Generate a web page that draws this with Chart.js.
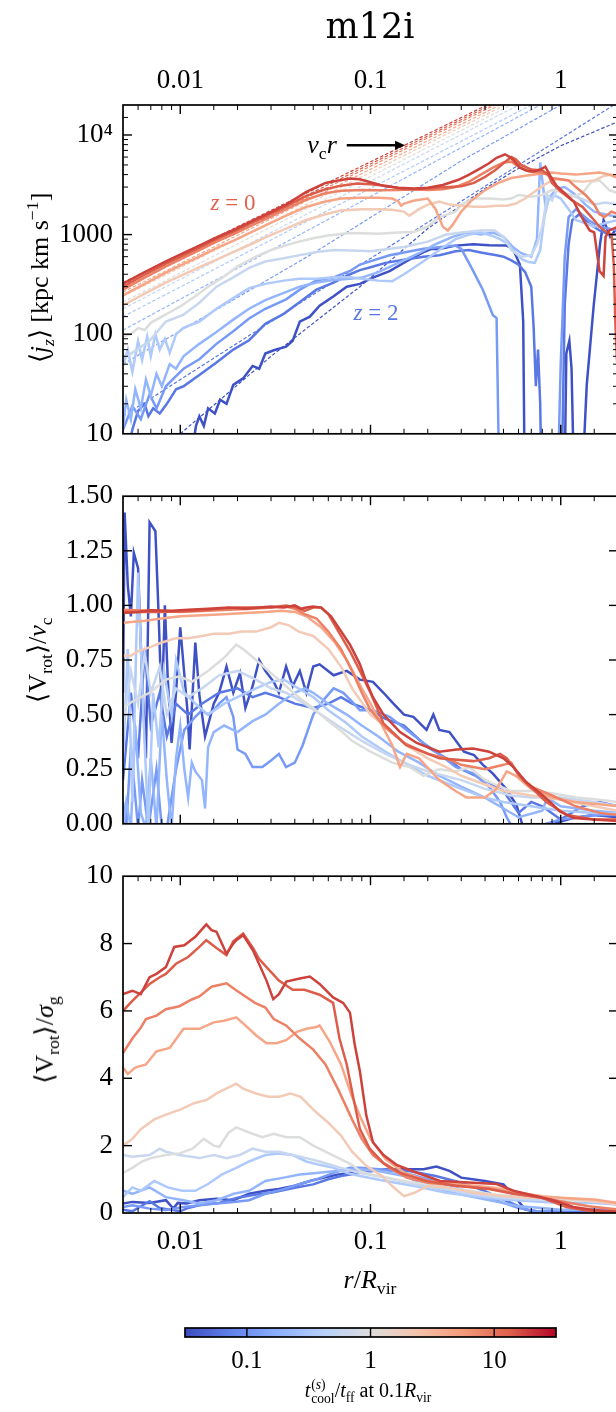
<!DOCTYPE html>
<html>
<head>
<meta charset="utf-8">
<script src="https://cdn.jsdelivr.net/npm/chart.js@4.4.1/dist/chart.umd.min.js"></script>
<style>
html, body { margin: 0; padding: 0; background: #fff; overflow: hidden; }
#fig { position: relative; width: 616px; height: 1412px; overflow: hidden; font-family: 'Liberation Serif', serif; color: #000; }
canvas { position: absolute; left: 0; }
.lbl { position: absolute; white-space: nowrap; font-size: 26px; line-height: 1; }
.ctr { transform: translate(-50%, -50%); }
.rot { transform: translate(-50%, -50%) rotate(-90deg); }
sub, sup { font-size: 68%; line-height: 0; }
.ss { display: inline-flex; flex-direction: column; vertical-align: middle; font-size: 68%; line-height: 1; margin-left: 1px; }
</style>
</head>
<body>
<div id="fig">
  <canvas id="c1" width="640" height="460" style="top:0px"></canvas>
  <canvas id="c2" width="640" height="380" style="top:470px"></canvas>
  <canvas id="c3" width="640" height="420" style="top:850px"></canvas>
  <canvas id="cb" width="640" height="70" style="top:1310px"></canvas>

  <div class="lbl ctr" style="left:370px;top:26px;font-family:'DejaVu Serif';font-size:35px;">m12i</div>
  <div class="lbl rot" style="left:40px;top:278px;">⟨<i>j</i><sub><i>z</i></sub>⟩ [kpc km s<sup>−1</sup>]</div>
  <div class="lbl rot" style="left:38px;top:660px;">⟨V<sub>rot</sub>⟩/<i>v</i><sub>c</sub></div>
  <div class="lbl rot" style="left:45px;top:1040px;">⟨V<sub>rot</sub>⟩/<i>σ</i><sub>g</sub></div>
  <div class="lbl ctr" style="left:370px;top:1280px;"><i>r</i>/<i>R</i><sub>vir</sub></div>
  <div class="lbl ctr" style="left:322px;top:145px;"><i>v</i><sub>c</sub><i>r</i></div>
  <div class="lbl ctr" style="left:233px;top:202px;font-size:23px;color:#e0624e;"><i>z</i> = 0</div>
  <div class="lbl ctr" style="left:376px;top:312px;font-size:23px;color:#5a78e4;"><i>z</i> = 2</div>
  <div class="lbl ctr" style="left:368px;top:1392px;font-size:20px;"><i>t</i><span class="ss"><span>(<i>s</i>)</span><span>cool</span></span>/<i>t</i><sub>ff</sub> at 0.1<i>R</i><sub>vir</sub></div>
</div>

<script>
// axis ranges and tick labels
const X_MIN = 0.005, X_MAX = 2;
const X_TICKS = [0.01, 0.1, 1];
const X_TICK_TEXT = ['0.01', '0.1', '1'];
const JZ_MIN = 10, JZ_MAX = 20000;
const JZ_TICKS = [10, 100, 1000, 10000];
const JZ_TICK_TEXT = ['10', '100', '1000', '10⁴'];
const VC_TICKS = [0, 0.25, 0.5, 0.75, 1.0, 1.25, 1.5];
const VC_TICK_TEXT = ['0.00', '0.25', '0.50', '0.75', '1.00', '1.25', '1.50'];
const SG_TICKS = [0, 2, 4, 6, 8, 10];
const SG_TICK_TEXT = ['0', '2', '4', '6', '8', '10'];
const CB_MIN = 0.0316, CB_MAX = 31.6;
const CB_TICKS = [0.1, 1, 10];
const CB_TICK_TEXT = ['0.1', '1', '10'];

// one colour per snapshot, from low to high t_cool/t_ff
const COLORS = ['#3e51c5', '#5a78e4', '#779af7', '#93b5fe', '#aec9fc', '#c7d7f0',
                '#dcdddd', '#f2cab5', '#f6a586', '#ec8165', '#dc5d4a', '#cd423b'];

// arrow next to "v_c r"
const ARROW = { x0: 0.075, x1: 0.152, y: 7900 };

// ---- top panel: <j_z> ----
const jz0 = [[0.0117,8],[0.0121,12],[0.0126,15],[0.0133,12],[0.014,18],[0.0152,16],[0.0162,22],[0.0175,20],[0.019,31],[0.0214,36],[0.024,48],[0.026,45],[0.028,64],[0.031,69],[0.036,75],[0.039,86],[0.0425,134],[0.048,150],[0.054,193],[0.064,240],[0.075,300],[0.088,320],[0.103,370],[0.126,430],[0.154,537],[0.19,668],[0.21,720],[0.23,715],[0.28,775],[0.347,800],[0.42,780],[0.52,775],[0.56,720],[0.61,500],[0.635,134],[0.65,1],[1.04,1],[1.07,64],[1.11,86],[1.14,45],[1.19,1],[1.26,1],[1.37,31],[1.49,193],[1.61,810],[1.68,1390],[1.82,950],[2.0,1200]];
const jz1 = [[0.0054,8],[0.0056,11],[0.006,17],[0.0065,20],[0.0068,15],[0.0072,18],[0.0078,16],[0.0085,20],[0.0095,28],[0.0104,30],[0.0126,39],[0.0155,52],[0.019,70],[0.023,87],[0.028,127],[0.035,160],[0.0425,210],[0.052,280],[0.064,330],[0.078,400],[0.088,440],[0.1,470],[0.12,520],[0.15,560],[0.19,600],[0.23,620],[0.28,680],[0.33,700],[0.38,660],[0.42,640],[0.46,620],[0.5,600],[0.55,550],[0.6,500],[0.65,420],[0.7,300],[0.72,120],[0.74,30],[0.76,70],[0.78,20],[0.8,1],[1.0,1],[1.05,200],[1.1,800],[1.15,1400],[1.25,1600],[1.4,1300],[1.6,1100],[1.8,1000],[2.0,1000]];
const jz2 = [[0.005,11],[0.0056,19],[0.0062,14],[0.0069,25],[0.0075,18],[0.0084,30],[0.0095,38],[0.0104,45],[0.0126,56],[0.0155,80],[0.019,107],[0.023,144],[0.028,180],[0.036,224],[0.0425,280],[0.052,346],[0.064,372],[0.078,431],[0.088,500],[0.126,620],[0.19,720],[0.28,775],[0.3,720],[0.333,500],[0.39,278],[0.44,155],[0.46,145],[0.48,1],[0.95,1],[1.0,50],[1.05,600],[1.1,1500],[1.2,1800],[1.4,1400],[1.6,1200],[2.0,1100]];
const jz3 = [[0.005,12],[0.0052,22],[0.0055,14],[0.0058,28],[0.0062,18],[0.0066,35],[0.007,24],[0.0075,40],[0.008,30],[0.0088,50],[0.0095,45],[0.0104,60],[0.0126,80],[0.0155,105],[0.019,140],[0.023,180],[0.028,220],[0.035,260],[0.0425,300],[0.052,330],[0.064,350],[0.078,360],[0.09,370],[0.11,420],[0.14,520],[0.18,650],[0.22,800],[0.27,950],[0.32,1050],[0.38,1000],[0.44,1050],[0.5,950],[0.56,750],[0.62,650],[0.7,600],[0.75,900],[0.78,5300],[0.8,3500],[0.83,2000],[0.88,2400],[0.95,2900],[1.05,3000],[1.2,2500],[1.35,2000],[1.5,1700],[1.7,1600],[2.0,1500]];
const jz4 = [[0.005,48],[0.0053,70],[0.0056,42],[0.006,85],[0.0063,55],[0.0067,95],[0.007,60],[0.0074,100],[0.0078,70],[0.0083,90],[0.0088,65],[0.0095,100],[0.0104,116],[0.0126,134],[0.0155,180],[0.019,230],[0.023,290],[0.028,320],[0.035,345],[0.0425,360],[0.052,360],[0.064,372],[0.078,372],[0.09,360],[0.11,345],[0.13,340],[0.15,400],[0.19,540],[0.23,700],[0.28,900],[0.33,1000],[0.38,1050],[0.43,980],[0.48,900],[0.53,800],[0.58,650],[0.63,560],[0.68,530],[0.73,520],[0.78,700],[0.82,1500],[0.86,2200],[0.92,2500],[1.0,2300],[1.1,1800],[1.2,1400],[1.35,1300],[1.5,1200],[1.7,1300],[2.0,1400]];
const jz5 = [[0.005,60],[0.0054,62],[0.0069,86],[0.0084,134],[0.0103,155],[0.0126,207],[0.0155,300],[0.019,372],[0.023,463],[0.028,537],[0.035,578],[0.0425,622],[0.052,668],[0.064,700],[0.088,690],[0.1,680],[0.15,750],[0.2,850],[0.25,1000],[0.3,1050],[0.38,1100],[0.45,1100],[0.5,950],[0.55,700],[0.62,600],[0.7,620],[0.75,800],[0.8,1200],[0.85,2500],[0.9,2200],[0.95,2800],[1.05,2600],[1.2,2400],[1.35,2200],[1.5,2000],[1.7,2100],[2.0,2000]];
const jz6 = [[0.005,95],[0.0055,100],[0.006,115],[0.0065,110],[0.007,130],[0.008,150],[0.009,170],[0.01,190],[0.012,240],[0.014,300],[0.017,380],[0.02,480],[0.025,600],[0.03,700],[0.04,830],[0.05,920],[0.06,980],[0.075,1030],[0.09,1030],[0.11,1020],[0.14,1050],[0.17,1070],[0.2,1200],[0.23,1500],[0.28,1700],[0.3,2000],[0.35,2300],[0.42,2300],[0.5,2250],[0.55,2300],[0.6,2500],[0.7,2400],[0.8,2500],[0.9,2800],[1.0,2700],[1.15,2400],[1.3,2600],[1.45,3400],[1.6,3500],[1.8,2800],[2.0,2600]];
const jz7 = [[0.005,195],[0.0065,255],[0.0084,330],[0.0105,400],[0.0126,470],[0.0155,560],[0.0191,670],[0.0235,800],[0.0284,950],[0.036,1150],[0.046,1400],[0.058,1600],[0.07,1750],[0.09,1800],[0.11,1800],[0.13,1780],[0.15,1700],[0.16,1550],[0.18,1800],[0.2,2000],[0.23,2150],[0.26,2000],[0.3,1950],[0.35,1900],[0.4,1900],[0.46,1950],[0.52,1950],[0.58,2050],[0.65,2300],[0.75,2800],[0.85,3300],[0.95,3600],[1.1,3500],[1.3,3400],[1.5,3500],[1.7,3900],[1.85,4000],[2.0,3800]];
const jz8 = [[0.005,245],[0.0065,320],[0.0084,415],[0.0105,510],[0.0126,600],[0.0155,730],[0.0191,870],[0.0235,1050],[0.0284,1250],[0.036,1550],[0.046,1900],[0.058,2150],[0.07,2300],[0.09,2350],[0.11,2350],[0.13,2300],[0.14,2150],[0.145,1950],[0.15,2050],[0.17,2200],[0.2,2300],[0.22,1800],[0.24,1200],[0.255,1100],[0.27,1250],[0.3,1700],[0.34,2200],[0.4,2800],[0.47,3300],[0.55,3700],[0.65,3900],[0.8,4100],[0.9,4200],[1.0,4100],[1.2,4000],[1.4,4100],[1.6,4200],[1.8,4000],[2.0,3700]];
const jz9 = [[0.005,280],[0.0065,370],[0.0084,480],[0.0105,590],[0.0126,700],[0.0155,850],[0.0191,1010],[0.0235,1220],[0.0284,1450],[0.036,1800],[0.046,2250],[0.058,2600],[0.07,2750],[0.09,2800],[0.11,2780],[0.14,2800],[0.17,2850],[0.2,2800],[0.24,2850],[0.28,3000],[0.33,3400],[0.38,4000],[0.44,4700],[0.5,5300],[0.55,5400],[0.6,4800],[0.68,4300],[0.78,4200],[0.85,4000],[0.9,3700],[1.0,3600],[1.1,3500],[1.2,3000],[1.35,2500],[1.5,2000],[1.6,1600],[1.7,1500],[1.85,1700],[2.0,1600]];
const jz10 = [[0.005,300],[0.0065,395],[0.0084,510],[0.0105,625],[0.0126,740],[0.0155,900],[0.0191,1070],[0.0235,1300],[0.0284,1540],[0.036,1920],[0.046,2450],[0.058,2850],[0.07,3100],[0.085,3250],[0.1,3200],[0.12,3100],[0.15,2850],[0.18,2850],[0.22,2950],[0.26,3000],[0.3,3050],[0.35,3300],[0.4,3800],[0.45,4400],[0.5,5200],[0.55,6000],[0.58,5700],[0.62,5000],[0.7,4500],[0.8,4400],[0.86,4000],[0.9,3300],[1.0,2700],[1.15,2200],[1.3,1900],[1.45,1500],[1.6,1200],[1.75,1050],[1.85,1000],[1.9,500],[1.94,120],[1.97,60],[2.0,40]];
const jz11 = [[0.005,322],[0.0065,420],[0.0084,537],[0.0105,660],[0.0126,774],[0.0155,940],[0.0191,1117],[0.0235,1350],[0.0284,1607],[0.036,2000],[0.046,2680],[0.058,3300],[0.068,3500],[0.078,3650],[0.088,3600],[0.1,3350],[0.12,3050],[0.14,2950],[0.17,2900],[0.2,2950],[0.24,3150],[0.29,3550],[0.33,4000],[0.376,4600],[0.42,5200],[0.46,5900],[0.51,6400],[0.54,6000],[0.564,5600],[0.61,4700],[0.66,4400],[0.72,4300],[0.78,4500],[0.83,4800],[0.88,3900],[0.95,3100],[1.05,2600],[1.17,2150],[1.32,1380],[1.42,1100],[1.5,1050],[1.6,430],[1.68,385],[1.72,950],[1.8,1100],[2.0,1200]];

// dashed v_c * r references, same colour order
const vcr0 = [[0.01,10],[0.03,60],[0.088,300],[0.2,1150],[0.4,2900],[0.586,4500],[1.0,7800],[2.0,13600]];
const vcr1 = [[0.005,15],[0.05,250],[0.5,4000],[1.9,20000]];
const vcr2 = [[0.005,50],[0.05,650],[0.3,5500],[1.0,20000]];
const vcr3 = [[0.005,110],[0.78,20000]];
const vcr4 = [[0.005,150],[0.7,20000]];
const vcr5 = [[0.005,180],[0.6,20000]];
const vcr6 = [[0.005,210],[0.55,20000]];
const vcr7 = [[0.005,240],[0.51,20000]];
const vcr8 = [[0.005,265],[0.48,20000]];
const vcr9 = [[0.005,290],[0.45,20000]];
const vcr10 = [[0.005,310],[0.43,20000]];
const vcr11 = [[0.005,330],[0.41,20000]];

// ---- middle panel: <V_rot>/v_c ----
const vc0 = [[0.005,0.6],[0.0051,1.425],[0.0053,1.09],[0.0055,0.95],[0.0057,1.24],[0.006,1.17],[0.0063,0.66],[0.0066,0.3],[0.0069,1.38],[0.0074,1.34],[0.0077,0.95],[0.008,0.52],[0.0083,1.0],[0.0086,0.66],[0.009,0.37],[0.0095,0.6],[0.01,0.9],[0.0109,0.52],[0.0112,0.34],[0.012,0.83],[0.0126,0.59],[0.0135,0.4],[0.015,0.55],[0.016,0.6],[0.0175,0.72],[0.019,0.6],[0.0206,0.69],[0.022,0.53],[0.024,0.63],[0.026,0.75],[0.028,0.7],[0.031,0.65],[0.033,0.6],[0.036,0.72],[0.039,0.63],[0.0425,0.7],[0.046,0.6],[0.05,0.72],[0.054,0.73],[0.064,0.68],[0.075,0.7],[0.088,0.66],[0.103,0.65],[0.117,0.6],[0.132,0.55],[0.15,0.5],[0.168,0.49],[0.197,0.43],[0.214,0.5],[0.23,0.43],[0.26,0.42],[0.31,0.33],[0.35,0.315],[0.39,0.27],[0.44,0.23],[0.52,0.157],[0.586,0.085],[0.636,-0.02],[0.8,-0.02],[1.0,0.01],[1.17,0.027],[1.49,0.04],[2.0,0.03]];
const vc1 = [[0.005,0.2],[0.0055,0.6],[0.006,0.3],[0.0065,0.8],[0.007,0.45],[0.0078,0.6],[0.0085,0.4],[0.0095,0.55],[0.011,0.5],[0.013,0.55],[0.016,0.6],[0.02,0.62],[0.024,0.58],[0.028,0.6],[0.033,0.58],[0.04,0.55],[0.05,0.53],[0.06,0.55],[0.07,0.58],[0.08,0.55],[0.1,0.52],[0.12,0.48],[0.15,0.45],[0.2,0.35],[0.25,0.3],[0.3,0.25],[0.4,0.2],[0.5,0.15],[0.6,0.05],[0.7,0.1],[0.8,0.08],[1.0,0.02],[1.3,0.08],[1.6,0.1],[2.0,0.08]];
const vc2 = [[0.005,0.1],[0.0052,-0.02],[0.0055,0.35],[0.006,-0.02],[0.0063,0.2],[0.0068,-0.02],[0.0075,0.25],[0.008,-0.02],[0.0085,-0.02],[0.0095,0.25],[0.0105,0.43],[0.012,0.49],[0.013,0.52],[0.014,0.5],[0.015,0.52],[0.016,0.55],[0.0175,0.58],[0.019,0.49],[0.02,0.34],[0.022,0.32],[0.024,0.26],[0.027,0.26],[0.03,0.29],[0.033,0.32],[0.036,0.26],[0.04,0.28],[0.044,0.36],[0.05,0.5],[0.057,0.57],[0.064,0.62],[0.072,0.6],[0.08,0.56],[0.088,0.52],[0.103,0.52],[0.126,0.49],[0.155,0.43],[0.19,0.37],[0.23,0.32],[0.28,0.26],[0.347,0.23],[0.42,0.17],[0.48,0.1],[0.52,0.03],[0.56,-0.02],[0.7,-0.02],[1.0,0.02],[1.5,0.04],[2.0,0.04]];
const vc3 = [[0.005,-0.02],[0.0052,0.1],[0.0055,-0.02],[0.0058,0.45],[0.0062,0.05],[0.0066,-0.02],[0.007,0.3],[0.0075,-0.02],[0.008,0.5],[0.0085,0.2],[0.009,-0.02],[0.0095,0.3],[0.01,0.45],[0.0105,0.25],[0.011,0.12],[0.0115,0.28],[0.012,0.24],[0.013,0.2],[0.0135,0.07],[0.014,0.35],[0.015,0.42],[0.017,0.45],[0.02,0.42],[0.024,0.47],[0.028,0.5],[0.033,0.55],[0.04,0.6],[0.045,0.62],[0.05,0.6],[0.06,0.55],[0.075,0.5],[0.09,0.45],[0.11,0.4],[0.14,0.33],[0.18,0.28],[0.23,0.22],[0.3,0.17],[0.4,0.12],[0.5,0.07],[0.6,0.03],[0.8,0.06],[0.85,0.12],[1.0,0.08],[1.5,0.06],[2.0,0.05]];
const vc4 = [[0.005,0.3],[0.0053,0.8],[0.0056,0.1],[0.006,1.15],[0.0064,0.5],[0.0068,-0.02],[0.0072,0.6],[0.0077,0.35],[0.0082,0.7],[0.009,0.5],[0.0095,0.75],[0.0105,0.6],[0.012,0.55],[0.014,0.5],[0.017,0.55],[0.02,0.58],[0.025,0.62],[0.03,0.65],[0.035,0.66],[0.04,0.63],[0.05,0.58],[0.06,0.52],[0.075,0.46],[0.09,0.4],[0.12,0.33],[0.15,0.28],[0.2,0.22],[0.3,0.16],[0.4,0.12],[0.5,0.1],[0.7,0.08],[1.0,0.06],[1.5,0.05],[2.0,0.05]];
const vc5 = [[0.005,0.45],[0.0055,0.7],[0.006,0.55],[0.0065,0.78],[0.007,0.6],[0.0078,0.72],[0.0085,0.5],[0.0095,0.62],[0.011,0.58],[0.013,0.62],[0.016,0.68],[0.02,0.7],[0.025,0.66],[0.03,0.62],[0.036,0.6],[0.045,0.55],[0.055,0.5],[0.07,0.44],[0.09,0.38],[0.12,0.32],[0.16,0.27],[0.2,0.24],[0.3,0.2],[0.4,0.16],[0.55,0.13],[0.7,0.12],[1.0,0.12],[1.5,0.1],[2.0,0.08]];
const vc6 = [[0.005,0.53],[0.0056,0.56],[0.0069,0.6],[0.0084,0.66],[0.0099,0.675],[0.0115,0.65],[0.014,0.7],[0.017,0.76],[0.0197,0.82],[0.0214,0.8],[0.025,0.75],[0.03,0.69],[0.036,0.63],[0.0425,0.575],[0.05,0.53],[0.06,0.47],[0.069,0.43],[0.08,0.38],[0.1,0.33],[0.13,0.28],[0.16,0.26],[0.19,0.22],[0.23,0.25],[0.28,0.24],[0.33,0.26],[0.4,0.2],[0.48,0.17],[0.55,0.15],[0.7,0.15],[0.9,0.14],[1.2,0.12],[1.6,0.11],[2.0,0.1]];
const vc7 = [[0.005,0.77],[0.0055,0.77],[0.006,0.79],[0.007,0.81],[0.008,0.83],[0.0095,0.85],[0.011,0.85],[0.013,0.86],[0.015,0.87],[0.018,0.87],[0.021,0.88],[0.025,0.88],[0.03,0.9],[0.033,0.92],[0.037,0.91],[0.042,0.88],[0.05,0.86],[0.06,0.8],[0.07,0.72],[0.08,0.62],[0.1,0.5],[0.13,0.42],[0.16,0.35],[0.2,0.3],[0.25,0.26],[0.3,0.22],[0.4,0.18],[0.5,0.15],[0.7,0.13],[1.0,0.11],[1.5,0.08],[2.0,0.06]];
const vc8 = [[0.005,0.92],[0.0065,0.93],[0.008,0.94],[0.01,0.95],[0.013,0.955],[0.017,0.96],[0.022,0.965],[0.028,0.97],[0.034,0.975],[0.04,0.97],[0.046,0.95],[0.055,0.9],[0.065,0.83],[0.075,0.75],[0.09,0.62],[0.1,0.55],[0.115,0.45],[0.13,0.36],[0.143,0.26],[0.155,0.32],[0.18,0.3],[0.23,0.2],[0.28,0.15],[0.32,0.12],[0.4,0.12],[0.46,0.16],[0.52,0.24],[0.58,0.22],[0.7,0.16],[0.9,0.12],[1.2,0.1],[1.6,0.09],[2.0,0.08]];
const vc9 = [[0.005,0.98],[0.007,0.975],[0.01,0.97],[0.014,0.975],[0.018,0.98],[0.024,0.985],[0.03,0.99],[0.036,0.995],[0.04,0.985],[0.045,0.96],[0.052,0.94],[0.06,0.88],[0.07,0.8],[0.08,0.7],[0.09,0.6],[0.1,0.52],[0.12,0.44],[0.15,0.37],[0.2,0.32],[0.25,0.3],[0.3,0.27],[0.4,0.25],[0.5,0.27],[0.55,0.28],[0.6,0.22],[0.7,0.17],[0.9,0.13],[1.2,0.08],[1.6,0.05],[2.0,0.04]];
const vc10 = [[0.005,0.97],[0.008,0.97],[0.012,0.975],[0.016,0.985],[0.02,0.99],[0.025,0.99],[0.03,0.99],[0.036,1.0],[0.041,0.99],[0.045,0.975],[0.05,0.99],[0.055,0.99],[0.06,0.96],[0.069,0.87],[0.078,0.79],[0.088,0.7],[0.1,0.6],[0.117,0.46],[0.154,0.36],[0.23,0.3],[0.347,0.287],[0.42,0.3],[0.48,0.32],[0.52,0.3],[0.636,0.2],[0.84,0.1],[1.08,0.04],[1.49,0.02],[2.0,0.02]];
const vc11 = [[0.005,0.965],[0.006,0.97],[0.007,0.978],[0.009,0.975],[0.011,0.98],[0.014,0.985],[0.018,0.99],[0.022,0.985],[0.026,0.99],[0.03,0.995],[0.035,0.99],[0.04,1.0],[0.043,0.985],[0.046,0.99],[0.05,0.995],[0.055,0.99],[0.062,0.95],[0.069,0.89],[0.078,0.82],[0.088,0.73],[0.095,0.65],[0.103,0.58],[0.117,0.5],[0.143,0.42],[0.175,0.37],[0.23,0.33],[0.284,0.34],[0.347,0.345],[0.42,0.33],[0.5,0.3],[0.564,0.26],[0.66,0.19],[0.78,0.14],[0.88,0.1],[0.99,0.056],[1.17,0.027],[1.49,0.02],[2.0,0.013]];

// ---- bottom panel: <V_rot>/sigma_g ----
const sg0 = [[0.005,0.28],[0.0056,0.33],[0.0069,0.3],[0.0084,0.38],[0.0092,0.13],[0.0097,0.3],[0.0108,0.28],[0.0126,0.38],[0.0155,0.42],[0.019,0.38],[0.023,0.57],[0.028,0.66],[0.033,0.71],[0.04,0.81],[0.048,0.95],[0.057,1.05],[0.067,1.14],[0.076,1.19],[0.09,1.25],[0.11,1.28],[0.15,1.3],[0.19,1.3],[0.222,1.38],[0.26,1.25],[0.3,1.05],[0.4,0.95],[0.5,0.85],[0.55,0.6],[0.6,0.35],[0.65,0.1],[0.75,0.05],[1.0,0.03],[1.3,0.08],[1.6,0.1],[2.0,0.1]];
const sg1 = [[0.005,0.1],[0.0056,0.05],[0.0062,0.2],[0.0069,0.35],[0.0078,0.15],[0.0088,0.1],[0.01,0.05],[0.011,0.15],[0.013,0.25],[0.016,0.3],[0.02,0.45],[0.025,0.55],[0.03,0.6],[0.04,0.75],[0.05,0.85],[0.06,1.0],[0.07,1.1],[0.09,1.2],[0.12,1.3],[0.16,1.25],[0.22,1.1],[0.3,0.9],[0.4,0.65],[0.5,0.4],[0.6,0.2],[0.7,0.05],[1.0,0.02],[1.5,0.05],[2.0,0.08]];
const sg2 = [[0.005,0.18],[0.0056,0.23],[0.0069,0.13],[0.0084,0.09],[0.0104,0.18],[0.0126,0.23],[0.0155,0.28],[0.0191,0.33],[0.023,0.38],[0.028,0.57],[0.035,0.71],[0.0425,0.86],[0.052,1.0],[0.064,1.19],[0.078,1.34],[0.088,1.34],[0.11,1.3],[0.15,1.2],[0.2,1.0],[0.3,0.7],[0.4,0.5],[0.5,0.3],[0.6,0.15],[0.75,0.05],[1.0,0.08],[1.5,0.1],[2.0,0.1]];
const sg3 = [[0.005,0.66],[0.0056,0.57],[0.0069,0.76],[0.0084,0.47],[0.0104,0.38],[0.0126,0.28],[0.0155,0.38],[0.0191,0.57],[0.023,0.66],[0.028,0.95],[0.035,1.05],[0.0425,1.14],[0.052,1.19],[0.064,1.24],[0.078,1.29],[0.088,1.3],[0.11,1.25],[0.15,1.1],[0.2,0.8],[0.3,0.55],[0.45,0.35],[0.6,0.2],[0.8,0.15],[1.0,0.1],[1.5,0.1],[2.0,0.1]];
const sg4 = [[0.005,0.47],[0.0056,0.76],[0.0062,0.66],[0.0073,0.95],[0.0086,0.76],[0.0102,0.66],[0.012,0.66],[0.014,0.86],[0.0165,1.14],[0.0197,1.34],[0.023,1.53],[0.028,1.72],[0.033,1.77],[0.039,1.72],[0.046,1.53],[0.054,1.43],[0.064,1.34],[0.075,1.19],[0.088,1.1],[0.12,0.95],[0.17,0.8],[0.25,0.6],[0.35,0.5],[0.5,0.4],[0.7,0.35],[1.0,0.3],[1.5,0.3],[2.0,0.25]];
const sg5 = [[0.005,1.72],[0.0056,1.67],[0.0069,1.72],[0.0078,1.91],[0.0084,1.82],[0.0099,1.72],[0.0126,1.63],[0.015,1.72],[0.0175,1.63],[0.0205,1.72],[0.024,1.91],[0.028,1.82],[0.033,1.82],[0.039,1.72],[0.046,1.63],[0.054,1.53],[0.07,1.34],[0.088,1.19],[0.12,1.05],[0.17,0.85],[0.25,0.7],[0.35,0.55],[0.5,0.45],[0.7,0.4],[1.0,0.4],[1.5,0.35],[2.0,0.3]];
const sg6 = [[0.005,1.19],[0.0056,1.34],[0.0063,1.53],[0.007,1.63],[0.0084,1.72],[0.0099,1.77],[0.0116,1.91],[0.0133,2.2],[0.015,2.0],[0.016,1.96],[0.018,2.39],[0.0197,2.54],[0.023,2.39],[0.027,2.25],[0.031,2.35],[0.036,2.25],[0.0425,2.25],[0.05,2.0],[0.058,1.82],[0.068,1.63],[0.08,1.43],[0.088,1.24],[0.1,1.15],[0.15,0.95],[0.2,0.85],[0.3,0.7],[0.45,0.55],[0.6,0.5],[0.8,0.45],[1.0,0.4],[1.5,0.35],[2.0,0.3]];
const sg7 = [[0.005,2.0],[0.0056,2.2],[0.0062,2.49],[0.0073,2.78],[0.0084,2.92],[0.01,3.07],[0.0118,3.26],[0.0138,3.36],[0.0155,3.55],[0.0197,3.84],[0.0214,3.69],[0.025,3.55],[0.029,3.45],[0.033,3.45],[0.038,3.55],[0.043,3.45],[0.05,3.07],[0.06,2.68],[0.07,2.3],[0.08,1.82],[0.095,1.4],[0.115,1.1],[0.13,0.8],[0.15,0.5],[0.17,0.6],[0.2,0.8],[0.26,0.75],[0.35,0.6],[0.5,0.5],[0.7,0.45],[1.0,0.45],[1.5,0.35],[2.0,0.25]];
const sg8 = [[0.005,4.32],[0.0053,4.13],[0.0058,4.32],[0.0066,4.41],[0.0075,4.8],[0.0088,4.9],[0.0104,5.47],[0.0126,5.47],[0.015,5.66],[0.017,5.71],[0.0197,5.81],[0.022,5.57],[0.025,5.28],[0.0284,5.04],[0.032,5.04],[0.036,5.13],[0.041,5.38],[0.046,5.47],[0.052,5.52],[0.054,5.57],[0.061,5.09],[0.07,4.41],[0.08,3.45],[0.088,2.88],[0.1,2.2],[0.12,1.6],[0.15,1.2],[0.2,0.95],[0.3,0.85],[0.45,0.75],[0.6,0.6],[0.8,0.5],[1.0,0.45],[1.5,0.4],[2.0,0.3]];
const sg9 = [[0.005,4.75],[0.0056,5.18],[0.0062,5.5],[0.0066,5.76],[0.0075,5.86],[0.0084,6.05],[0.0099,6.14],[0.0115,6.34],[0.0126,6.43],[0.0146,6.72],[0.0175,6.82],[0.0195,6.63],[0.022,6.43],[0.0247,6.24],[0.028,6.1],[0.031,5.76],[0.036,5.57],[0.0425,5.18],[0.05,4.85],[0.058,4.41],[0.068,3.64],[0.08,2.78],[0.09,2.2],[0.103,1.72],[0.126,1.34],[0.155,1.05],[0.2,0.9],[0.3,0.8],[0.42,0.72],[0.55,0.6],[0.7,0.5],[1.0,0.35],[1.4,0.2],[2.0,0.1]];
const sg10 = [[0.005,6.0],[0.0056,6.3],[0.0069,6.8],[0.0078,7.0],[0.0084,7.1],[0.0095,7.4],[0.011,7.6],[0.0126,7.9],[0.0137,8.1],[0.0155,7.87],[0.0175,7.66],[0.019,8.07],[0.0214,8.3],[0.0241,7.87],[0.026,7.54],[0.0284,7.3],[0.033,6.9],[0.039,6.63],[0.045,6.63],[0.054,6.48],[0.0636,6.24],[0.0687,5.18],[0.075,4.41],[0.081,3.45],[0.088,2.49],[0.099,1.91],[0.117,1.48],[0.143,1.19],[0.197,0.95],[0.28,0.81],[0.42,0.71],[0.564,0.57],[0.778,0.47],[1.07,0.18],[1.49,0.04],[2.0,0.03]];
const sg11 = [[0.005,6.5],[0.0056,6.6],[0.0062,6.5],[0.0069,7.0],[0.0075,7.1],[0.0084,7.3],[0.0093,7.9],[0.0105,7.95],[0.012,8.2],[0.0137,8.57],[0.0146,8.4],[0.0155,8.35],[0.0175,7.7],[0.019,8.0],[0.0197,8.1],[0.0214,8.25],[0.0241,7.8],[0.0284,6.9],[0.0308,6.35],[0.033,6.5],[0.0361,6.87],[0.0425,6.96],[0.048,7.02],[0.054,6.8],[0.0636,6.4],[0.0718,6.24],[0.078,5.95],[0.0826,5.0],[0.088,4.2],[0.095,2.9],[0.103,2.1],[0.117,1.72],[0.137,1.43],[0.167,1.24],[0.232,0.95],[0.347,0.9],[0.46,0.86],[0.564,0.66],[0.718,0.52],[0.915,0.38],[1.166,0.18],[1.486,0.09],[2.0,0.04]];

const JZ = [jz0, jz1, jz2, jz3, jz4, jz5, jz6, jz7, jz8, jz9, jz10, jz11];
const VCR = [vcr0, vcr1, vcr2, vcr3, vcr4, vcr5, vcr6, vcr7, vcr8, vcr9, vcr10, vcr11];
const VC = [vc0, vc1, vc2, vc3, vc4, vc5, vc6, vc7, vc8, vc9, vc10, vc11];
const SG = [sg0, sg1, sg2, sg3, sg4, sg5, sg6, sg7, sg8, sg9, sg10, sg11];

const CB_STOPS = [[0, '#3b4cc0'], [0.125, '#6282ea'], [0.25, '#8db0fe'], [0.375, '#b8d0f9'], [0.5, '#dddcdc'],
                  [0.625, '#f4c4ad'], [0.75, '#f49a7b'], [0.875, '#de604d'], [1, '#b40426']];

Chart.defaults.font.family = "'Liberation Serif', serif";
Chart.defaults.font.size = 27;
Chart.defaults.color = '#000';

const toXY = a => a.map(p => ({ x: p[0], y: p[1] }));
const solid = (a, c) => ({ data: toXY(a), borderColor: c, borderWidth: 2.5, pointRadius: 0, fill: false, tension: 0 });
const dashed = (a, c) => ({ data: toXY(a), borderColor: c, borderWidth: 1.2, borderDash: [3.5, 2], pointRadius: 0, fill: false, tension: 0 });

function pickLabel(ticks, text) {
  return v => {
    const i = ticks.findIndex(t => Math.abs(v - t) <= Math.abs(t) * 1e-6 + 1e-9);
    return i >= 0 ? text[i] : '';
  };
}

const isDecade = v => Math.abs(Math.log10(v) - Math.round(Math.log10(v))) < 1e-6;

// box + inward ticks on all four sides, matplotlib style
const framePlugin = {
  id: 'frame',
  afterDatasetsDraw(chart) {
    const { ctx, chartArea: a, scales } = chart;
    ctx.save();
    ctx.strokeStyle = '#000';
    const seg = (x0, y0, x1, y1, w) => { ctx.lineWidth = w; ctx.beginPath(); ctx.moveTo(x0, y0); ctx.lineTo(x1, y1); ctx.stroke(); };
    const xs = scales.x, ys = scales.y;
    xs.ticks.forEach(t => {
      const p = xs.getPixelForValue(t.value);
      if (p < a.left + 1 || p > a.right - 1) return;
      const major = isDecade(t.value);
      const L = major ? 9 : 5, w = major ? 1.4 : 1;
      seg(p, a.top, p, a.top + L, w);
      seg(p, a.bottom, p, a.bottom - L, w);
    });
    ys.ticks.forEach(t => {
      const p = ys.getPixelForValue(t.value);
      if (p < a.top + 1 || p > a.bottom - 1) return;
      const major = ys.type !== 'logarithmic' || isDecade(t.value);
      const L = major ? 9 : 5, w = major ? 1.4 : 1;
      seg(a.left, p, a.left + L, p, w);
      seg(a.right, p, a.right - L, p, w);
    });
    ctx.lineWidth = 1.7;
    ctx.strokeRect(a.left, a.top, a.right - a.left, a.bottom - a.top);
    ctx.restore();
  }
};

// arrow pointing at the v_c r lines
const arrowPlugin = {
  id: 'arrow',
  afterDatasetsDraw(chart) {
    const { ctx, scales } = chart;
    const x0 = scales.x.getPixelForValue(ARROW.x0), x1 = scales.x.getPixelForValue(ARROW.x1);
    const y = scales.y.getPixelForValue(ARROW.y);
    ctx.save();
    ctx.strokeStyle = '#000'; ctx.fillStyle = '#000'; ctx.lineWidth = 2.6;
    ctx.beginPath(); ctx.moveTo(x0, y); ctx.lineTo(x1 - 8, y); ctx.stroke();
    ctx.beginPath(); ctx.moveTo(x1, y); ctx.lineTo(x1 - 10, y - 4.5); ctx.lineTo(x1 - 10, y + 4.5); ctx.closePath(); ctx.fill();
    ctx.restore();
  }
};

function panel(id, datasets, cfg) {
  return new Chart(document.getElementById(id), {
    type: 'line',
    data: { datasets },
    options: {
      responsive: false, animation: false, events: [],
      devicePixelRatio: 1,
      layout: { padding: cfg.padding },
      plugins: { legend: { display: false }, tooltip: { enabled: false } },
      scales: {
        x: {
          type: 'logarithmic', min: X_MIN, max: X_MAX, position: cfg.xPos,
          grid: { display: false, drawTicks: false }, border: { display: false },
          ticks: { autoSkip: false, maxRotation: 0, padding: cfg.xPad, callback: cfg.xLabel },
          afterFit: s => { s.height = cfg.xHeight; }
        },
        y: Object.assign({
          position: 'left',
          grid: { display: false, drawTicks: false }, border: { display: false },
          afterFit: s => { s.width = 123; }
        }, cfg.y)
      }
    },
    plugins: cfg.plugins
  });
}

function buildSets(solids, dashes) {
  const sets = [];
  for (let i = solids.length - 1; i >= 0; i--) sets.push(solid(solids[i], COLORS[i]));
  if (dashes) for (let i = dashes.length - 1; i >= 0; i--) sets.push(dashed(dashes[i], COLORS[i]));
  return sets;
}

panel('c1', buildSets(JZ, VCR), {
  padding: { top: 0, right: 22, bottom: 8, left: 0 },
  xPos: 'top', xHeight: 105, xPad: 8,
  xLabel: pickLabel(X_TICKS, X_TICK_TEXT),
  y: { type: 'logarithmic', min: JZ_MIN, max: JZ_MAX,
       ticks: { autoSkip: false, padding: 10, callback: pickLabel(JZ_TICKS, JZ_TICK_TEXT) } },
  plugins: [framePlugin, arrowPlugin]
});

panel('c2', buildSets(VC), {
  padding: { top: 16, right: 22, bottom: 0, left: 0 },
  xPos: 'bottom', xHeight: 17, xPad: 0,
  xLabel: () => '',
  y: { type: 'linear', min: 0, max: 1.5,
       ticks: { stepSize: 0.25, padding: 10, callback: pickLabel(VC_TICKS, VC_TICK_TEXT) } },
  plugins: [framePlugin]
});

panel('c3', buildSets(SG), {
  padding: { top: 16, right: 22, bottom: 0, left: 0 },
  xPos: 'bottom', xHeight: 57, xPad: 13,
  xLabel: pickLabel(X_TICKS, X_TICK_TEXT),
  y: { type: 'linear', min: 0, max: 10,
       ticks: { stepSize: 2, padding: 10, callback: pickLabel(SG_TICKS, SG_TICK_TEXT) } },
  plugins: [framePlugin]
});

// colour bar
const cbPlugin = {
  id: 'cbar',
  beforeDatasetsDraw(chart) {
    const { ctx, chartArea: a, scales } = chart;
    const g = ctx.createLinearGradient(a.left, 0, a.right, 0);
    CB_STOPS.forEach(s => g.addColorStop(s[0], s[1]));
    ctx.save();
    ctx.fillStyle = g;
    ctx.fillRect(a.left, a.top, a.right - a.left, a.bottom - a.top);
    ctx.strokeStyle = '#000';
    ctx.lineWidth = 1.4;
    CB_TICKS.forEach(v => {
      const p = scales.x.getPixelForValue(v);
      ctx.beginPath(); ctx.moveTo(p, a.top); ctx.lineTo(p, a.bottom); ctx.stroke();
    });
    ctx.lineWidth = 1.7;
    ctx.strokeRect(a.left, a.top, a.right - a.left, a.bottom - a.top);
    ctx.restore();
  }
};

new Chart(document.getElementById('cb'), {
  type: 'line',
  data: { datasets: [] },
  options: {
    responsive: false, animation: false, events: [], devicePixelRatio: 1,
    layout: { padding: { top: 18, right: 84, bottom: 0, left: 185 } },
    plugins: { legend: { display: false }, tooltip: { enabled: false } },
    scales: {
      x: {
        type: 'logarithmic', min: CB_MIN, max: CB_MAX, position: 'bottom',
        grid: { display: false, drawTicks: false }, border: { display: false },
        ticks: { autoSkip: false, maxRotation: 0, padding: 9, font: { size: 25 }, callback: pickLabel(CB_TICKS, CB_TICK_TEXT) },
        afterFit: s => { s.height = 43; }
      },
      y: { display: false, min: 0, max: 1 }
    }
  },
  plugins: [cbPlugin]
});
</script>
</body>
</html>
